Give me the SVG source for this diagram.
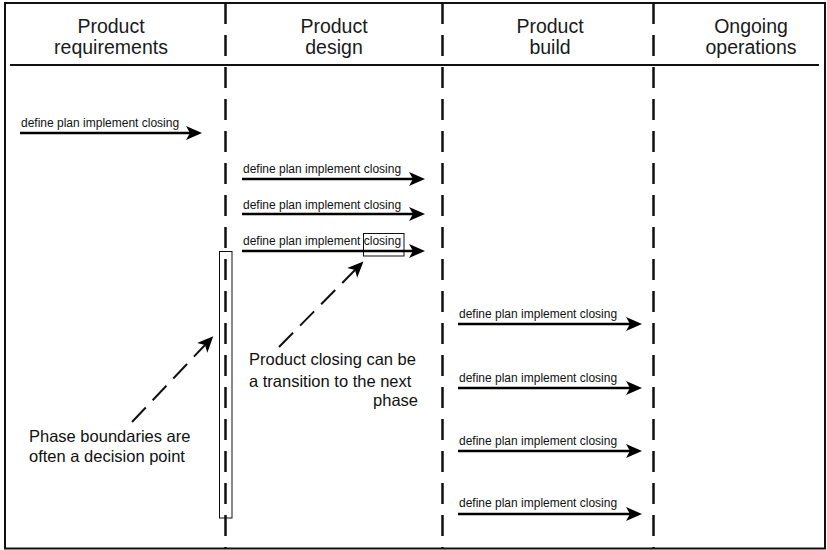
<svg xmlns="http://www.w3.org/2000/svg" width="827" height="550" viewBox="0 0 827 550">
  <defs>
    <style>
      .frame { fill: none; stroke: #111; stroke-width: 2; }
      .divider { stroke: #111; stroke-width: 2.5; stroke-dasharray: 21 11; fill: none; }
      .head { font-family: "Liberation Sans", Arial, Helvetica, sans-serif; font-size: 19.5px; fill: #1a1a1a; text-anchor: middle; }
      .step { font-family: "Liberation Sans", Arial, Helvetica, sans-serif; font-size: 12px; fill: #111; }
      .note { font-family: "Liberation Sans", Arial, Helvetica, sans-serif; font-size: 16.5px; fill: #111; }
      .flow { stroke: #000; stroke-width: 2.5; fill: none; marker-end: url(#head); }
      .pointer { stroke: #111; stroke-width: 2; stroke-dasharray: 20 10; fill: none; marker-end: url(#head); }
      .callout { fill: none; stroke: #111; stroke-width: 1; }
    </style>
    <marker id="head" markerUnits="userSpaceOnUse" markerWidth="18" markerHeight="16" refX="4" refY="7" orient="auto" overflow="visible">
      <path d="M0,0 L16,7 L0,14 L4,7 z" fill="#000"/>
    </marker>
  </defs>

  <!-- outer frame and header rule -->
  <g id="frame">
    <rect class="frame" x="5" y="3" width="820" height="545.5"/>
    <line class="frame" x1="10" y1="65" x2="819" y2="65" stroke-width="2.5"/>
  </g>

  <!-- phase columns -->
  <g id="phase-requirements">
    <text class="head" x="111" y="33">Product</text>
    <text class="head" x="111" y="54">requirements</text>
  </g>
  <g id="phase-design">
    <text class="head" x="334" y="33">Product</text>
    <text class="head" x="334" y="54">design</text>
  </g>
  <g id="phase-build">
    <text class="head" x="550" y="33">Product</text>
    <text class="head" x="550" y="54">build</text>
  </g>
  <g id="phase-operations">
    <text class="head" x="751" y="33">Ongoing</text>
    <text class="head" x="751" y="54">operations</text>
  </g>

  <!-- dashed phase boundaries -->
  <g id="boundaries">
    <line class="divider" x1="225.5" y1="3" x2="225.5" y2="548"/>
    <line class="divider" x1="442.5" y1="3" x2="442.5" y2="548"/>
    <line class="divider" x1="653.5" y1="3" x2="653.5" y2="548"/>
  </g>

  <!-- step labels -->
  <g id="steps">
    <text class="step" x="21" y="127">define plan implement closing</text>
    <text class="step" x="243" y="173">define plan implement closing</text>
    <text class="step" x="243" y="208.5">define plan implement closing</text>
    <text class="step" x="243" y="245">define plan implement closing</text>
    <text class="step" x="459" y="318">define plan implement closing</text>
    <text class="step" x="459" y="382">define plan implement closing</text>
    <text class="step" x="459" y="445">define plan implement closing</text>
    <text class="step" x="459" y="507">define plan implement closing</text>
  </g>

  <!-- highlight boxes -->
  <g id="closing-box">
    <rect class="callout" x="363.5" y="233.5" width="40.5" height="22.5"/>
  </g>
  <g id="boundary-box">
    <rect class="callout" x="219.5" y="251.5" width="12.5" height="266.5"/>
  </g>

  <!-- annotations -->
  <g id="note-closing">
    <text class="note" x="249" y="365">Product closing can be</text>
    <text class="note" x="249" y="386.5">a transition to the next</text>
    <text class="note" x="418" y="406" text-anchor="end">phase</text>
  </g>
  <g id="note-boundaries">
    <text class="note" x="29" y="442">Phase boundaries are</text>
    <text class="note" x="29" y="461.5">often a decision point</text>
  </g>

  <!-- connectors -->
  <g id="connectors">
    <line class="flow" x1="20" y1="133" x2="190" y2="133"/>
    <line class="flow" x1="242" y1="179" x2="413" y2="179"/>
    <line class="flow" x1="242" y1="214" x2="413" y2="214"/>
    <line class="flow" x1="242" y1="251" x2="413" y2="251"/>
    <line class="flow" x1="458" y1="324" x2="630" y2="324"/>
    <line class="flow" x1="458" y1="388" x2="630" y2="388"/>
    <line class="flow" x1="458" y1="451" x2="630" y2="451"/>
    <line class="flow" x1="458" y1="514" x2="630" y2="514"/>
    <line class="pointer" x1="279" y1="347" x2="355" y2="270"/>
    <line class="pointer" x1="132" y1="422" x2="205" y2="345"/>
  </g>
</svg>
